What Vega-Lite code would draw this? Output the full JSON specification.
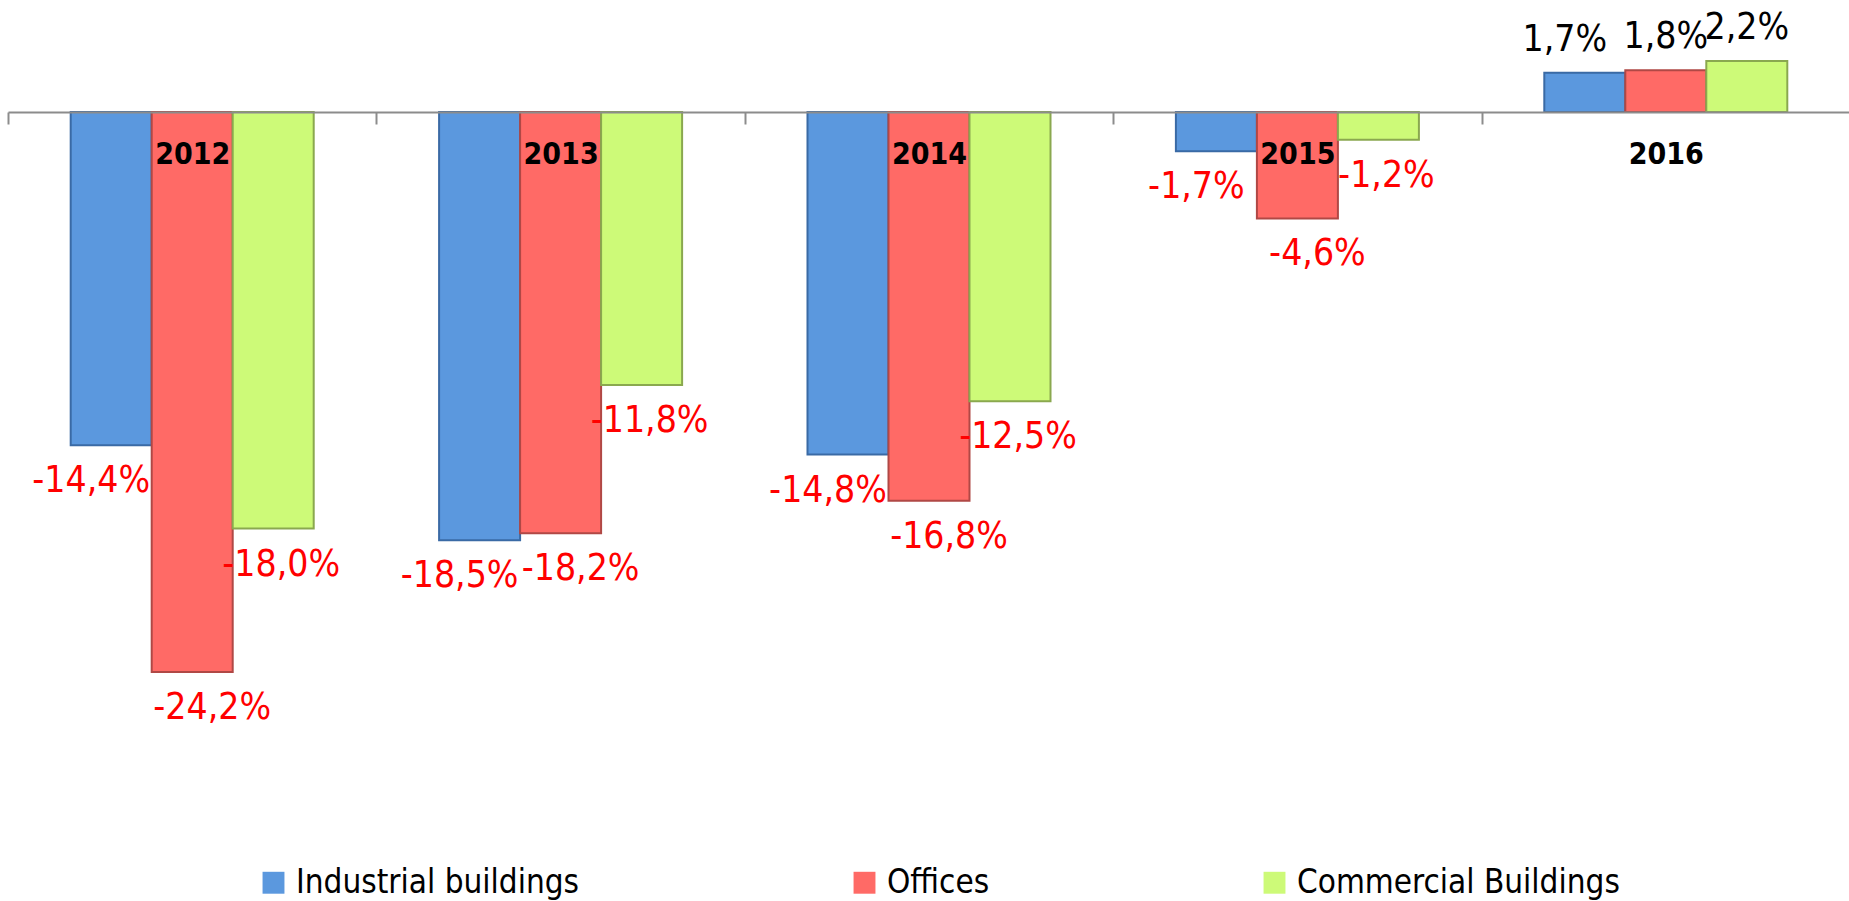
{
  "$schema": "https://vega.github.io/schema/vega-lite/v6.json",
  "width": 1842,
  "height": 760,
  "padding": {"left": 8, "top": 0, "right": 0, "bottom": 141},
  "autosize": {"type": "none"},
  "background": "white",
  "config": {
    "view": {"stroke": null},
    "font": "DejaVu Sans Condensed, Open Sans, sans-serif",
    "locale": {"number": {"decimal": ",", "thousands": ".", "grouping": [3], "currency": ["", "€"], "minus": "-"}}
  },
  "data": {
    "values": [
      {"year": "2012", "series": "Industrial buildings", "value": -0.144},
      {"year": "2012", "series": "Offices", "value": -0.242},
      {"year": "2012", "series": "Commercial Buildings", "value": -0.180},
      {"year": "2013", "series": "Industrial buildings", "value": -0.185},
      {"year": "2013", "series": "Offices", "value": -0.182},
      {"year": "2013", "series": "Commercial Buildings", "value": -0.118},
      {"year": "2014", "series": "Industrial buildings", "value": -0.148},
      {"year": "2014", "series": "Offices", "value": -0.168},
      {"year": "2014", "series": "Commercial Buildings", "value": -0.125},
      {"year": "2015", "series": "Industrial buildings", "value": -0.017},
      {"year": "2015", "series": "Offices", "value": -0.046},
      {"year": "2015", "series": "Commercial Buildings", "value": -0.012},
      {"year": "2016", "series": "Industrial buildings", "value": 0.017},
      {"year": "2016", "series": "Offices", "value": 0.018},
      {"year": "2016", "series": "Commercial Buildings", "value": 0.022}
    ]
  },
  "encoding": {
    "x": {
      "field": "year", "type": "nominal",
      "scale": {"paddingInner": 0, "paddingOuter": 0},
      "axis": {
        "orient": "bottom", "offset": -648, "title": null, "zindex": 1,
        "domainColor": "#8c8c8c", "domainWidth": 2,
        "tickColor": "#8c8c8c", "tickWidth": 2, "tickSize": 12, "tickBand": "extent",
        "labelAngle": 0, "labelFontWeight": "bold", "labelFontSize": 30, "labelColor": "black",
        "labelPadding": 15
      }
    },
    "xOffset": {
      "field": "series", "type": "nominal",
      "sort": ["Industrial buildings", "Offices", "Commercial Buildings"],
      "scale": {"paddingInner": 0, "paddingOuter": 0.774}
    },
    "y": {
      "field": "value", "type": "quantitative",
      "scale": {"domain": [-0.28, 0.0484], "nice": false, "zero": false},
      "axis": null
    }
  },
  "layer": [
    {
      "mark": {"type": "bar", "strokeWidth": 2},
      "encoding": {
        "y2": {"datum": 0},
        "color": {
          "field": "series", "type": "nominal",
          "sort": ["Industrial buildings", "Offices", "Commercial Buildings"],
          "scale": {"domain": ["Industrial buildings", "Offices", "Commercial Buildings"], "range": ["#5b98de", "#ff6a66", "#cdfa78"]},
          "legend": {
            "title": null, "orient": "none", "legendX": 249, "legendY": 866, "direction": "horizontal",
            "labelFontSize": 33, "labelColor": "black", "symbolType": "square", "symbolSize": 480,
            "symbolStrokeWidth": 0, "columnPadding": 268, "labelOffset": 6, "labelLimit": 600
          }
        },
        "stroke": {
          "field": "series", "type": "nominal",
          "scale": {"domain": ["Industrial buildings", "Offices", "Commercial Buildings"], "range": ["#3a6aa5", "#b04845", "#8aa84f"]},
          "legend": null
        }
      }
    },
    {
      "transform": [{"filter": "datum.value < 0 && datum.series == 'Industrial buildings'"}],
      "mark": {"type": "text", "dy": 36, "dx": -20, "baseline": "middle", "align": "center", "fontSize": 37, "color": "#ff0000"},
      "encoding": {"text": {"field": "value", "type": "quantitative", "format": ".1%"}}
    },
    {
      "transform": [{"filter": "datum.value < 0 && datum.series == 'Offices'"}],
      "mark": {"type": "text", "dy": 36, "dx": 20, "baseline": "middle", "align": "center", "fontSize": 37, "color": "#ff0000"},
      "encoding": {"text": {"field": "value", "type": "quantitative", "format": ".1%"}}
    },
    {
      "transform": [{"filter": "datum.value < 0 && datum.series == 'Commercial Buildings'"}],
      "mark": {"type": "text", "dy": 36, "dx": 8, "baseline": "middle", "align": "center", "fontSize": 37, "color": "#ff0000"},
      "encoding": {"text": {"field": "value", "type": "quantitative", "format": ".1%"}}
    },
    {
      "transform": [{"filter": "datum.value >= 0 && datum.series == 'Industrial buildings'"}],
      "mark": {"type": "text", "dy": -33, "dx": -20, "baseline": "middle", "align": "center", "fontSize": 37, "color": "black"},
      "encoding": {"text": {"field": "value", "type": "quantitative", "format": ".1%"}}
    },
    {
      "transform": [{"filter": "datum.value >= 0 && datum.series != 'Industrial buildings'"}],
      "mark": {"type": "text", "dy": -33, "baseline": "middle", "align": "center", "fontSize": 37, "color": "black"},
      "encoding": {"text": {"field": "value", "type": "quantitative", "format": ".1%"}}
    }
  ]
}
